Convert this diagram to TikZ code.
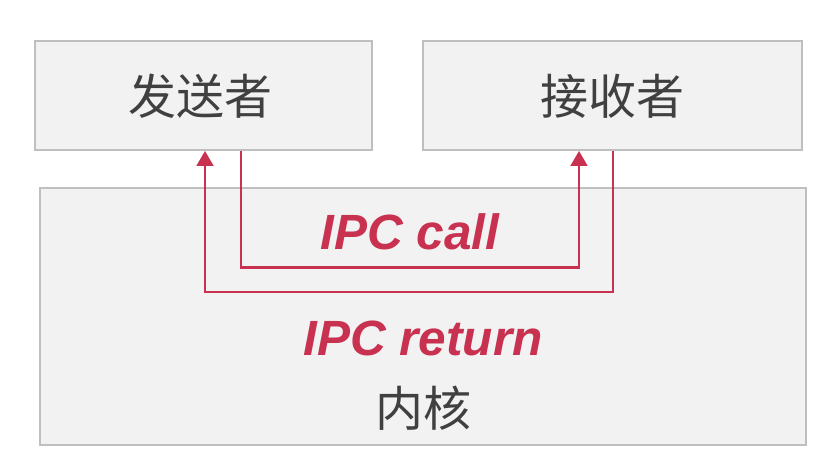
\documentclass[tikz,border=0pt]{standalone}
\usepackage{fontspec}
\newfontfamily\cjk{Noto Sans CJK SC}
\newfontfamily\lat{Liberation Sans}
\usetikzlibrary{arrows.meta}
\definecolor{boxfill}{HTML}{F2F2F2}
\definecolor{boxline}{HTML}{BFBFBF}
\definecolor{ipcred}{HTML}{C8314F}
\definecolor{txtgray}{HTML}{404040}

\begin{document}
\begin{tikzpicture}[x=1pt,y=-1pt,
  box/.style={draw=boxline,fill=boxfill,line width=2pt,inner sep=0pt},
  ipc/.style={draw=ipcred,line width=2pt,-{Triangle[width=17pt,length=15pt]}},
  cjklabel/.style={text=txtgray,font=\cjk\fontsize{48}{52}\selectfont},
  ipclabel/.style={text=ipcred,font=\lat\bfseries\itshape\fontsize{49.5}{54}\selectfont}]
  \useasboundingbox (0,0) rectangle (840,470);
  \node[box,minimum width=337pt,minimum height=109pt] (sender) at (203.5,95.5) {};
  \node[box,minimum width=379pt,minimum height=109pt] (receiver) at (612.5,95.5) {};
  \node[box,minimum width=766pt,minimum height=257pt] (kernel) at (423,316.5) {};
  \node[cjklabel] (sendertext) at (200,96) {发送者};
  \node[cjklabel] (receivertext) at (612,96) {接收者};
  \node[cjklabel] (kerneltext) at (423,408) {内核};
  \node[ipclabel] (calltext) at (410,232) {IPC call};
  \node[ipclabel] (returntext) at (423,338) {IPC return};
  \draw[ipc] ([xshift=37pt]sender.south) -- ++(0,116.5) -| ([xshift=-33.5pt]receiver.south);
  \draw[ipc] (receiver.south) -- ++(0,140.5) -| ([xshift=1.5pt]sender.south);
\end{tikzpicture}
\end{document}
